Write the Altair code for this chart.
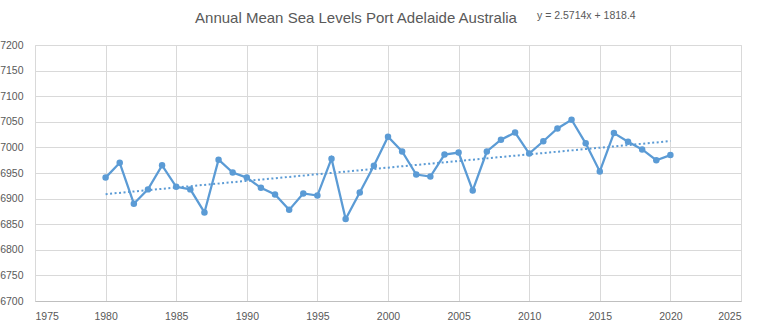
import altair as alt
import pandas as pd

years = list(range(1980, 2021))
levels = [6941, 6970, 6890, 6918, 6965, 6923, 6918, 6873, 6976, 6951,
          6941, 6921, 6908, 6878, 6910, 6906, 6978, 6860, 6912, 6964,
          7021, 6992, 6947, 6943, 6986, 6990, 6916, 6992, 7015, 7029,
          6988, 7012, 7037, 7054, 7008, 6953, 7028, 7011, 6996, 6975,
          6985]
x_ticks = list(range(1975, 2026, 5))
y_ticks = list(range(6700, 7201, 50))
title_text = "Annual Mean Sea Levels Port Adelaide Australia"
equation_text = "y = 2.5714x + 1818.4"

df = pd.DataFrame({"year": years, "level": levels})

BLUE = "#5B9BD5"
TXT = "#595959"
GRID = "#D9D9D9"
FONT = "Liberation Sans"

xenc = alt.X("year:Q",
             scale=alt.Scale(domain=[1975, 2025], nice=False, zero=False),
             axis=alt.Axis(values=x_ticks, format="d", title=None, grid=True,
                           gridColor=GRID, domainColor="#BFBFBF", ticks=False,
                           labelColor=TXT, labelFont=FONT, labelFontSize=10.5,
                           labelPadding=10, labelOverlap=False))
yenc = alt.Y("level:Q",
             scale=alt.Scale(domain=[6700, 7200], nice=False, zero=False),
             axis=alt.Axis(values=y_ticks, format="d", title=None, grid=True,
                           gridColor=GRID, domain=False, ticks=False,
                           labelColor=TXT, labelFont=FONT, labelFontSize=10.5,
                           labelPadding=12, labelOverlap=False))

base = alt.Chart(df)
line = base.mark_line(color=BLUE, strokeWidth=2.25).encode(x=xenc, y=yenc)
pts = base.mark_point(color=BLUE, filled=True, opacity=1, size=42).encode(x=xenc, y=yenc)
trend = base.transform_regression("year", "level").mark_line(
    color=BLUE, strokeWidth=2, strokeDash=[2, 2.5]).encode(x=xenc, y=yenc)

title = alt.Chart(pd.DataFrame({"t": [title_text]})).mark_text(
    font=FONT, fontSize=15, color=TXT, align="center", baseline="alphabetic").encode(
    text="t:N", x=alt.value(321), y=alt.value(-22))
eq = alt.Chart(pd.DataFrame({"t": [equation_text]})).mark_text(
    font=FONT, fontSize=10.5, color=TXT, align="left", baseline="alphabetic").encode(
    text="t:N", x=alt.value(502), y=alt.value(-26.5))

chart = alt.layer(line, trend, pts, title, eq).properties(
    width=706, height=256,
    autosize=alt.AutoSizeParams(type="none"),
    padding={"left": 35, "top": 45, "right": 24, "bottom": 28},
).configure_view(stroke=None).configure(background="white")

chart.save("out.html", embed_options={"renderer": "svg", "actions": False})
